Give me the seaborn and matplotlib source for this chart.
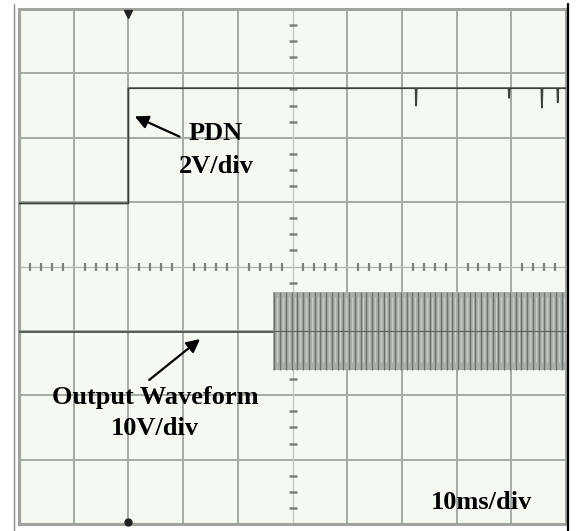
import numpy as np
import pandas as pd
import seaborn as sns
import matplotlib.pyplot as plt
from matplotlib.lines import Line2D

# scope traces, in divisions (x: 10 div of time, y: -4..4 div)
pdn_t = [0, 2.0, 2.0, 7.25, 7.26, 7.27, 8.95, 8.96, 8.97, 9.55, 9.56, 9.57, 9.84, 9.85, 9.86, 10]
pdn_v = [0.98, 0.98, 2.77, 2.77, 2.50, 2.77, 2.77, 2.62, 2.77, 2.77, 2.47, 2.77, 2.77, 2.55, 2.77, 2.77]

out_t = [0, 4.64]
out_v = [-1.02, -1.02]

# burst part of the output waveform
burst_start = 4.64
burst_end = 10.0
burst_top = -0.40
burst_bottom = -1.61
burst_period = 0.105   # spacing of the dark strokes

sns.set_style("white")
plt.rcParams['font.family'] = ['Liberation Serif', 'DejaVu Serif']

fig = plt.figure(figsize=(5.76, 5.31), dpi=100)
ax = fig.add_axes([19/576, 7/531, (566-19)/576, (524-9)/531])
ax.set_facecolor('#f4f9f2')

# grid
for xv in range(1, 10):
    if xv == 5:
        continue
    ax.axvline(xv, color='#a4aaa4', lw=1.4, zorder=1)
for yv in range(-3, 4):
    if yv == 0:
        continue
    ax.axhline(yv, color='#a4aaa4', lw=1.4, zorder=1)
ax.axvline(5, color='#c4c9c4', lw=1.0, zorder=1)
ax.axhline(0, color='#b4b9b4', lw=1.0, zorder=1)
sub_x = [v / 5 for v in range(1, 50) if v % 5]
sub_y = [v / 4 - 4 for v in range(1, 32) if v % 4]
ax.plot(sub_x, [0] * len(sub_x), ls='none', marker='|', ms=6, mew=1.6, color='#7c827c', zorder=1)
ax.plot([5] * len(sub_y), sub_y, ls='none', marker='_', ms=6, mew=1.8, color='#7c827c', zorder=1)

# traces
sns.lineplot(x=pdn_t, y=pdn_v, sort=False, estimator=None, color='#3c423c', lw=1.3, ax=ax, zorder=3)
sns.lineplot(x=out_t, y=out_v, sort=False, estimator=None, color='#4c524c', lw=1.3, ax=ax, zorder=3)

ax.fill_between([burst_start, burst_end], burst_bottom, burst_top, color='#aab0aa', lw=0, zorder=2)
strokes = np.arange(burst_start + 0.03, burst_end, burst_period)
ax.vlines(strokes, burst_bottom, burst_top, color='#5f655f', lw=1.0, alpha=0.85, zorder=3)
ax.vlines(strokes + burst_period / 2, burst_bottom + 0.12, burst_top - 0.08, color='#e4e9e4', lw=0.8, alpha=0.55, zorder=3)
ax.axhline(-1.0, xmin=burst_start / 10, color='#5a605a', lw=0.8, zorder=4)

# trigger markers
ax.plot([2], [3.93], marker='v', ms=6, color='#222222', clip_on=False, zorder=5)
ax.plot([2], [-3.97], marker='o', ms=5, color='#222222', clip_on=False, zorder=5)

# labels and arrows
txt = dict(fontsize=19, fontweight='bold', ha='center', va='center', color='black', zorder=6)
ax.annotate('', xy=(2.07, 2.35), xytext=(2.98, 2.00),
            arrowprops=dict(arrowstyle='-|>', color='black', lw=1.6, mutation_scale=20), zorder=6)
ax.annotate('', xy=(3.35, -1.10), xytext=(2.34, -1.79),
            arrowprops=dict(arrowstyle='-|>', color='black', lw=1.6, mutation_scale=20), zorder=6)
ax.text(3.60, 2.07, 'PDN', **txt)
ax.text(3.61, 1.55, '2V/div', **txt)
ax.text(2.49, -2.04, 'Output Waveform', **txt)
ax.text(2.49, -2.51, '10V/div', **txt)
ax.text(8.46, -3.66, '10ms/div', **txt)

ax.set_xlim(0, 10)
ax.set_ylim(-4, 4)
ax.set_xticks([])
ax.set_yticks([])
for s in ax.spines.values():
    s.set_color('#9ea39e')
    s.set_linewidth(2.2)

# outer frame lines of the screenshot
fig.add_artist(Line2D([13.5/576, 13.5/576], [0, 527/531], color='#8a8a8a', lw=1.0))
fig.add_artist(Line2D([568/576, 568/576], [0, 527/531], color='black', lw=1.6))

fig.savefig('out.png', dpi=100, facecolor='white')
